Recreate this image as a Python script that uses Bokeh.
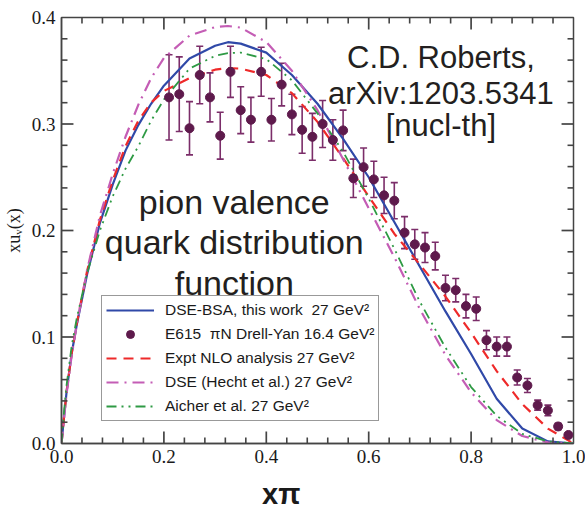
from bokeh.plotting import figure
from bokeh.models import (ColumnDataSource, Whisker, TeeHead, Legend, LegendItem, Label,
                          FixedTicker, Range1d, PrintfTickFormatter)
from bokeh.embed import file_html
from bokeh.resources import INLINE

# ---------------- data ----------------
curve_x = [0.0, 0.005, 0.01, 0.02, 0.03, 0.05, 0.075, 0.10, 0.125, 0.15, 0.175, 0.20,
           0.25, 0.30, 0.325, 0.35, 0.40, 0.45, 0.50, 0.55, 0.60, 0.65, 0.70, 0.75,
           0.80, 0.85, 0.90, 0.95, 1.0]
dse_bsa = [0.0, 0.025, 0.049, 0.085, 0.112, 0.159, 0.207, 0.243, 0.275, 0.299, 0.319, 0.336,
           0.3615, 0.3735, 0.3768, 0.3755, 0.367, 0.346, 0.319, 0.286, 0.250, 0.208, 0.166, 0.124,
           0.084, 0.042, 0.014, 0.002, 0.0]
expt_nlo = [0.0, 0.025, 0.049, 0.085, 0.113, 0.162, 0.210, 0.247, 0.279, 0.303, 0.320, 0.331,
            0.343, 0.351, 0.3525, 0.352, 0.346, 0.329, 0.302, 0.268, 0.232, 0.197, 0.168, 0.138,
            0.104, 0.068, 0.037, 0.014, 0.0]
dse_hecht = [0.0, 0.024, 0.047, 0.083, 0.112, 0.163, 0.214, 0.253, 0.288, 0.318, 0.343, 0.362,
             0.383, 0.391, 0.392, 0.3905, 0.377, 0.350, 0.313, 0.267, 0.221, 0.175, 0.126, 0.083,
             0.048, 0.022, 0.007, 0.001, 0.0]
aicher = [0.0, 0.030, 0.055, 0.092, 0.118, 0.160, 0.200, 0.232, 0.258, 0.279, 0.303, 0.323,
          0.352, 0.364, 0.3665, 0.367, 0.361, 0.341, 0.310, 0.274, 0.230, 0.183, 0.133, 0.090,
          0.053, 0.026, 0.009, 0.002, 0.0]

e615_x = [0.21, 0.23, 0.25, 0.27, 0.29, 0.31, 0.33, 0.35, 0.37, 0.39,
          0.41, 0.43, 0.45, 0.47, 0.49, 0.51, 0.53, 0.55, 0.57, 0.59,
          0.61, 0.63, 0.65, 0.67, 0.69, 0.71, 0.73, 0.75, 0.77, 0.79,
          0.81, 0.83, 0.85, 0.87, 0.89, 0.91, 0.93, 0.95, 0.97, 0.99]
e615_y = [0.325, 0.328, 0.296, 0.346, 0.325, 0.289, 0.349, 0.313, 0.304, 0.349,
          0.304, 0.337, 0.309, 0.2945, 0.288, 0.300, 0.285, 0.294, 0.249, 0.2595,
          0.248, 0.233, 0.228, 0.198, 0.187, 0.184, 0.176, 0.146, 0.144, 0.129,
          0.1265, 0.097, 0.091, 0.091, 0.062, 0.0545, 0.036, 0.031, 0.016, 0.008]
e615_err = [0.040, 0.035, 0.025, 0.027, 0.023, 0.022, 0.024, 0.022, 0.021, 0.023,
            0.020, 0.020, 0.019, 0.022, 0.022, 0.022, 0.019, 0.019, 0.018, 0.018,
            0.017, 0.017, 0.017, 0.015, 0.014, 0.014, 0.013, 0.012, 0.011, 0.011,
            0.011, 0.009, 0.009, 0.009, 0.007, 0.0066, 0.0047, 0.005, 0.003, 0.002]

x_major = [0.0, 0.2, 0.4, 0.6, 0.8, 1.0]
y_major = [0.0, 0.1, 0.2, 0.3, 0.4]
x_minor = [0.04, 0.08, 0.12, 0.16, 0.24, 0.28, 0.32, 0.36, 0.44, 0.48, 0.52, 0.56,
           0.64, 0.68, 0.72, 0.76, 0.84, 0.88, 0.92, 0.96]
y_minor = [0.02, 0.04, 0.06, 0.08, 0.12, 0.14, 0.16, 0.18, 0.22, 0.24, 0.26, 0.28,
           0.32, 0.34, 0.36, 0.38]

labels = ["DSE-BSA, this work  27 GeV\u00b2",
          "E615  \u03c0N Drell-Yan 16.4 GeV\u00b2",
          "Expt NLO analysis 27 GeV\u00b2",
          "DSE (Hecht et al.) 27 GeV\u00b2",
          "Aicher et al. 27 GeV\u00b2"]

# ---------------- figure ----------------
W, H = 585, 512
BL, BR, BT, BB = 59, 12, 17, 69
XMIN, XMAX, YMIN, YMAX = 0.0, 1.0, 0.0, 0.4
fw, fh = W - BL - BR, H - BT - BB

p = figure(width=W, height=H, x_range=Range1d(XMIN, XMAX), y_range=Range1d(YMIN, YMAX),
           output_backend="svg", toolbar_location=None,
           min_border_left=BL, min_border_right=BR, min_border_top=BT, min_border_bottom=BB)
p.xgrid.visible = False
p.ygrid.visible = False
AX = "#444444"
p.outline_line_color = AX
p.outline_line_width = 1.5
p.background_fill_color = "white"
p.border_fill_color = "white"

for ax, ticks in [(p.xaxis[0], x_major), (p.yaxis[0], y_major)]:
    ax.ticker = FixedTicker(ticks=ticks)
    ax.formatter = PrintfTickFormatter(format="%.1f")
    ax.major_tick_line_color = None
    ax.minor_tick_line_color = None
    ax.major_tick_out = 0
    ax.major_tick_in = 0
    ax.minor_tick_out = 0
    ax.minor_tick_in = 0
    ax.axis_line_color = AX
    ax.axis_line_width = 1.5
    ax.major_label_text_font = "Liberation Serif"
    ax.major_label_text_font_size = "19px"
    ax.major_label_text_color = "#1a1a1a"
    ax.major_label_standoff = 6

p.yaxis.axis_label = "xu\u1d65(x)"
p.yaxis.axis_label_text_font = "Liberation Serif"
p.yaxis.axis_label_text_font_size = "18px"
p.yaxis.axis_label_text_font_style = "normal"
p.yaxis.axis_label_text_color = "#1a1a1a"
p.yaxis.axis_label_standoff = 5

# x label, shifted left of the frame centre (trailing no-break spaces)
p.xaxis.axis_label = "x\u03c0" + "\u00a0" * 9
p.xaxis.axis_label_text_font = "Liberation Sans"
p.xaxis.axis_label_text_font_size = "29px"
p.xaxis.axis_label_text_font_style = "bold"
p.xaxis.axis_label_text_color = "#1a1a1a"
p.xaxis.axis_label_standoff = 12

# inward ticks on all four sides, built from the tick lists (major 12 px, minor 6 px)
dx = (XMAX - XMIN) / fw   # data units per pixel along x
dy = (YMAX - YMIN) / fh   # data units per pixel along y
inner_x = [t for t in x_major if XMIN < t < XMAX]
inner_y = [t for t in y_major if YMIN < t < YMAX]
for xt, yt, L, lw in [(inner_x, inner_y, 12, 1.7), (x_minor, y_minor, 6, 1.6)]:
    t_x0, t_x1, t_y0, t_y1 = [], [], [], []
    for t in xt:
        t_x0 += [t, t]
        t_x1 += [t, t]
        t_y0 += [YMIN, YMAX]
        t_y1 += [YMIN + L * dy, YMAX - L * dy]
    for t in yt:
        t_y0 += [t, t]
        t_y1 += [t, t]
        t_x0 += [XMIN, XMAX]
        t_x1 += [XMIN + L * dx, XMAX - L * dx]
    src = ColumnDataSource(dict(x0=t_x0, y0=t_y0, x1=t_x1, y1=t_y1))
    p.segment(x0="x0", y0="y0", x1="x1", y1="y1", source=src,
              line_color=AX, line_width=lw, level="overlay")

cs = ColumnDataSource(dict(x=curve_x, b=dse_bsa, r=expt_nlo, m=dse_hecht, g=aicher))
r_blue = p.line("x", "b", source=cs, line_color="#3049A8", line_width=2.2)
r_red = p.line("x", "r", source=cs, line_color="#EE2A2A", line_width=2.2, line_dash="10 7")
r_mag = p.line("x", "m", source=cs, line_color="#C45DB5", line_width=2.2, line_dash="12 6 2 6")
r_grn = p.line("x", "g", source=cs, line_color="#2E9A44", line_width=1.8, line_dash="10 5 2 5 2 5")

es = ColumnDataSource(dict(x=e615_x, y=e615_y,
                           lo=[y - e for y, e in zip(e615_y, e615_err)],
                           hi=[y + e for y, e in zip(e615_y, e615_err)]))
wh = Whisker(base="x", lower="lo", upper="hi", source=es, line_color="#7B2D69", line_width=1.6,
             upper_head=TeeHead(size=7, line_color="#7B2D69", line_width=1.6),
             lower_head=TeeHead(size=7, line_color="#7B2D69", line_width=1.6))
p.add_layout(wh)
r_pts = p.scatter("x", "y", source=es, size=9, marker="circle",
                  fill_color="#5E1A4C", line_color="#5E1A4C")

legend = Legend(items=[LegendItem(label=labels[0], renderers=[r_blue]),
                       LegendItem(label=labels[1], renderers=[r_pts]),
                       LegendItem(label=labels[2], renderers=[r_red]),
                       LegendItem(label=labels[3], renderers=[r_mag]),
                       LegendItem(label=labels[4], renderers=[r_grn])],
                location=(40, 22), margin=0, padding=4, spacing=4,
                glyph_width=48, glyph_height=20, label_height=20, label_standoff=11,
                label_text_font="Liberation Sans", label_text_font_size="15.5px",
                label_text_color="#1a1a1a",
                border_line_color="#333333", border_line_width=1.2,
                background_fill_color="white", background_fill_alpha=1.0)
p.add_layout(legend)

TXT = "#231f20"
for txt, yy in [("C.D. Roberts,", 0.3627), ("arXiv:1203.5341", 0.3286), ("[nucl-th]", 0.2986)]:
    p.add_layout(Label(x=0.741, y=yy, text=txt, text_align="center", text_baseline="alphabetic",
                       text_font="Liberation Sans", text_font_size="31px", text_color=TXT))
for txt, yy in [("pion valence", 0.2265), ("quark distribution", 0.189), ("function", 0.151)]:
    p.add_layout(Label(x=0.3375, y=yy, text=txt, text_align="center", text_baseline="alphabetic",
                       text_font="Liberation Sans", text_font_size="34px", text_color=TXT))

open("out.html", "w").write(file_html(p, INLINE))
